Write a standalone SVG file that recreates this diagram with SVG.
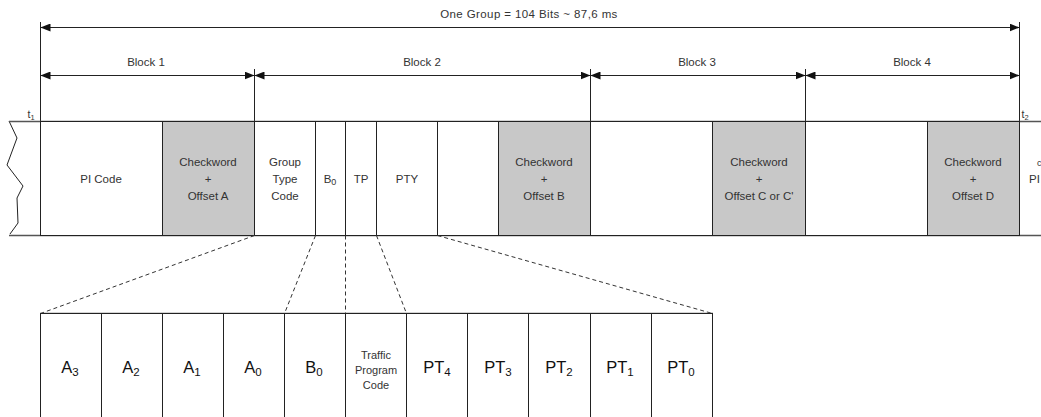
<svg xmlns="http://www.w3.org/2000/svg" width="1041" height="417" viewBox="0 0 1041 417">
<style>
text{font-family:"Liberation Sans",Arial,sans-serif;fill:#333;text-anchor:middle}
.s{font-size:11.5px}
.t{font-size:11.5px;letter-spacing:0.4px}
.b{font-size:16.5px;fill:#111}
.sub{font-size:11.5px}
.ln{stroke:#222;stroke-width:1;fill:none}
.hl{stroke:#555;stroke-width:1.5;fill:none}
.ar{stroke:#222;stroke-width:1;fill:none;marker-start:url(#ah);marker-end:url(#ah)}
.cell{fill:#fff;stroke:#222;stroke-width:1}
.gray{fill:#c8c8c8;stroke:#222;stroke-width:1}
.dash{stroke:#333;stroke-width:1;stroke-dasharray:4,3;fill:none}
</style>
<defs>
<marker id="ah" markerUnits="userSpaceOnUse" markerWidth="10" markerHeight="8" refX="10" refY="4" orient="auto-start-reverse" viewBox="0 0 10 8">
<path d="M0,0 L10,4 L0,8 z" fill="#111"/>
</marker>
</defs>
<rect width="1041" height="417" fill="#fff"/>

<g id="dimensions">
<line class="ln" x1="40.5" y1="22" x2="40.5" y2="121"/>
<line class="ln" x1="1019.5" y1="22" x2="1019.5" y2="121"/>
<line class="ln" x1="254.5" y1="69" x2="254.5" y2="121"/>
<line class="ln" x1="590.5" y1="69" x2="590.5" y2="121"/>
<line class="ln" x1="805.5" y1="69" x2="805.5" y2="121"/>
<line class="ar" x1="40.5" y1="27.5" x2="1019.5" y2="27.5"/>
<line class="ar" x1="40.5" y1="75.5" x2="254.5" y2="75.5"/>
<line class="ar" x1="254.5" y1="75.5" x2="590.5" y2="75.5"/>
<line class="ar" x1="590.5" y1="75.5" x2="805.5" y2="75.5"/>
<line class="ar" x1="805.5" y1="75.5" x2="1019.5" y2="75.5"/>
<text class="t" x="529" y="18">One Group = 104 Bits ~ 87,6 ms</text>
<text class="s" x="146" y="66">Block 1</text>
<text class="s" x="422" y="66">Block 2</text>
<text class="s" x="697" y="66">Block 3</text>
<text class="s" x="912" y="66">Block 4</text>
<text x="31" y="118" style="font-size:10.5px">t<tspan style="font-size:7.5px" dy="2">1</tspan></text>
<text x="1025" y="118" style="font-size:10.5px">t<tspan style="font-size:7.5px" dy="2">2</tspan></text>
</g>

<g id="band">
<polyline class="ln" points="9,121 17,138 7,165 23,186 17,198 18,223 10,234"/>
<line class="hl" x1="9" y1="121.5" x2="1041" y2="121.5"/>
<line class="hl" x1="9" y1="235.5" x2="1041" y2="235.5"/>
</g>

<g id="pi-code"><rect class="cell" x="40.5" y="121.5" width="122" height="114"/><text class="s" x="101" y="183">PI Code</text></g>
<g id="checkword-a"><rect class="gray" x="162.5" y="121.5" width="92" height="114"/><text class="s" x="208" y="166">Checkword</text><text class="s" x="208" y="183">+</text><text class="s" x="208" y="200">Offset A</text></g>
<g id="group-type-code"><rect class="cell" x="254.5" y="121.5" width="61" height="114"/><text class="s" x="285" y="166">Group</text><text class="s" x="285" y="183">Type</text><text class="s" x="285" y="200">Code</text></g>
<g id="b0"><rect class="cell" x="315.5" y="121.5" width="30" height="114"/><text class="s" x="330" y="183">B<tspan style="font-size:9px" dy="2">0</tspan></text></g>
<g id="tp"><rect class="cell" x="345.5" y="121.5" width="31" height="114"/><text class="s" x="361" y="183">TP</text></g>
<g id="pty"><rect class="cell" x="376.5" y="121.5" width="61" height="114"/><text class="s" x="407" y="183">PTY</text></g>
<g id="block2-data"><rect class="cell" x="437.5" y="121.5" width="61" height="114"/></g>
<g id="checkword-b"><rect class="gray" x="498.5" y="121.5" width="92" height="114"/><text class="s" x="544" y="166">Checkword</text><text class="s" x="544" y="183">+</text><text class="s" x="544" y="200">Offset B</text></g>
<g id="block3-data"><rect class="cell" x="590.5" y="121.5" width="122" height="114"/></g>
<g id="checkword-c"><rect class="gray" x="712.5" y="121.5" width="93" height="114"/><text class="s" x="759" y="166">Checkword</text><text class="s" x="759" y="183">+</text><text class="s" x="759" y="200">Offset C or C'</text></g>
<g id="block4-data"><rect class="cell" x="805.5" y="121.5" width="122" height="114"/></g>
<g id="checkword-d"><rect class="gray" x="927.5" y="121.5" width="92" height="114"/><text class="s" x="973" y="166">Checkword</text><text class="s" x="973" y="183">+</text><text class="s" x="973" y="200">Offset D</text></g>
<g id="next-group"><text class="s" x="1029" y="183" style="text-anchor:start">PI</text><text class="s" x="1037" y="166" style="text-anchor:start;font-size:9px">c</text></g>

<g id="connectors">
<line class="dash" x1="254.5" y1="235.5" x2="40.5" y2="313.5"/>
<line class="dash" x1="315.5" y1="235.5" x2="284.5" y2="313.5"/>
<line class="dash" x1="345.5" y1="235.5" x2="345.5" y2="313.5"/>
<line class="dash" x1="376.5" y1="235.5" x2="406.5" y2="313.5"/>
<line class="dash" x1="437.5" y1="235.5" x2="712.5" y2="313.5"/>
</g>

<g id="bits">
<line class="hl" x1="40" y1="313.5" x2="713" y2="313.5"/>
<g id="bit-a3"><rect class="cell" x="40.5" y="313.5" width="61" height="110"/><text class="b" x="70" y="373">A<tspan class="sub" dy="3">3</tspan></text></g>
<g id="bit-a2"><rect class="cell" x="101.5" y="313.5" width="61" height="110"/><text class="b" x="131" y="373">A<tspan class="sub" dy="3">2</tspan></text></g>
<g id="bit-a1"><rect class="cell" x="162.5" y="313.5" width="61" height="110"/><text class="b" x="192" y="373">A<tspan class="sub" dy="3">1</tspan></text></g>
<g id="bit-a0"><rect class="cell" x="223.5" y="313.5" width="61" height="110"/><text class="b" x="253" y="373">A<tspan class="sub" dy="3">0</tspan></text></g>
<g id="bit-b0"><rect class="cell" x="284.5" y="313.5" width="61" height="110"/><text class="b" x="314" y="373">B<tspan class="sub" dy="3">0</tspan></text></g>
<g id="bit-tp"><rect class="cell" x="345.5" y="313.5" width="61" height="110"/><text class="s" x="376" y="359" style="font-size:11px">Traffic</text><text class="s" x="376" y="374" style="font-size:11px">Program</text><text class="s" x="376" y="389" style="font-size:11px">Code</text></g>
<g id="bit-pt4"><rect class="cell" x="406.5" y="313.5" width="61" height="110"/><text class="b" x="437" y="373">PT<tspan class="sub" dy="3">4</tspan></text></g>
<g id="bit-pt3"><rect class="cell" x="467.5" y="313.5" width="61" height="110"/><text class="b" x="498" y="373">PT<tspan class="sub" dy="3">3</tspan></text></g>
<g id="bit-pt2"><rect class="cell" x="528.5" y="313.5" width="62" height="110"/><text class="b" x="559" y="373">PT<tspan class="sub" dy="3">2</tspan></text></g>
<g id="bit-pt1"><rect class="cell" x="590.5" y="313.5" width="61" height="110"/><text class="b" x="620" y="373">PT<tspan class="sub" dy="3">1</tspan></text></g>
<g id="bit-pt0"><rect class="cell" x="651.5" y="313.5" width="61" height="110"/><text class="b" x="681" y="373">PT<tspan class="sub" dy="3">0</tspan></text></g>
</g>
</svg>
